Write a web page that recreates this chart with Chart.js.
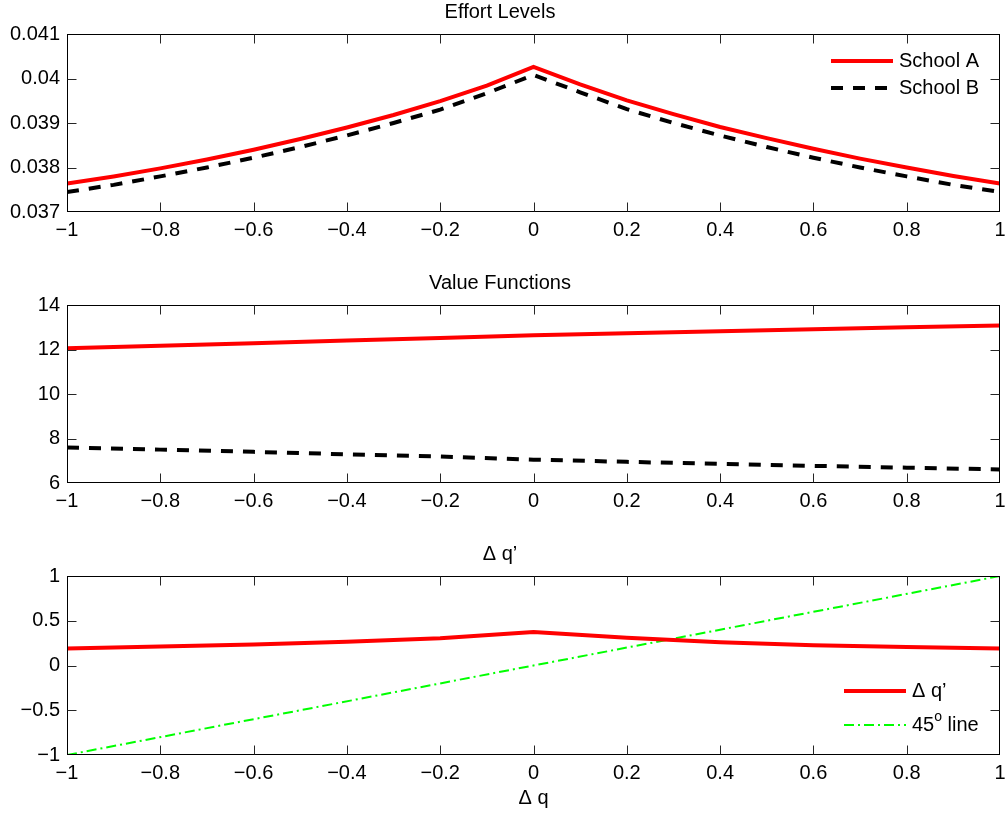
<!DOCTYPE html>
<html>
<head>
<meta charset="utf-8">
<script src="https://cdn.jsdelivr.net/npm/chart.js@4.4.1/dist/chart.umd.min.js"></script>
<style>
  html, body { margin: 0; padding: 0; background: #fff; }
  #wrap { position: relative; width: 1005px; height: 814px; }
  canvas { position: absolute; left: 0; }
</style>
</head>
<body>
<div id="wrap">
  <canvas id="c1" width="1005" height="250" style="top:0px"></canvas>
  <canvas id="c2" width="1005" height="250" style="top:271px"></canvas>
  <canvas id="c3" width="1005" height="272" style="top:542px"></canvas>
</div>
<script>
// effort levels, read at steps of 0.1
const dqFine = [-1, -0.9, -0.8, -0.7, -0.6, -0.5, -0.4, -0.3, -0.2, -0.1, 0,
                0.1, 0.2, 0.3, 0.4, 0.5, 0.6, 0.7, 0.8, 0.9, 1]
const effortA = [0.03764, 0.03780, 0.03798, 0.03818, 0.03840, 0.03864, 0.03890, 0.03918, 0.03949, 0.03984, 0.04026,
                 0.03987, 0.03951, 0.03920, 0.03891, 0.03866, 0.03842, 0.03820, 0.03800, 0.03781, 0.03764]
const effortB = [0.03745, 0.03761, 0.03780, 0.03800, 0.03822, 0.03846, 0.03872, 0.03900, 0.03930, 0.03967, 0.04008,
                 0.03969, 0.03931, 0.03900, 0.03872, 0.03846, 0.03822, 0.03800, 0.03780, 0.03761, 0.03745]

// value functions + policy, steps of 0.2
const dq = [-1, -0.8, -0.6, -0.4, -0.2, 0, 0.2, 0.4, 0.6, 0.8, 1]
const valueA = [12.06, 12.17, 12.28, 12.40, 12.52, 12.64, 12.73, 12.82, 12.91, 13.00, 13.08]
const valueB = [7.60, 7.50, 7.40, 7.29, 7.19, 7.05, 6.95, 6.86, 6.77, 6.69, 6.61]
const dqPrime = [0.190, 0.211, 0.234, 0.264, 0.305, 0.375, 0.309, 0.260, 0.226, 0.207, 0.190]
const lineX = [-1, 1]
const lineY = [-1, 1]

const FONT = "'Liberation Sans', Arial, Helvetica, sans-serif"
Chart.defaults.font.family = FONT
Chart.defaults.font.size = 20
Chart.defaults.color = '#000'

const pts = (xs, ys) => xs.map((x, i) => ({ x: x, y: ys[i] }))
const fmt = v => String(+(+v).toFixed(3)).replace('-', '\u2212')

// matlab style box with inward ticks + hand drawn legend
const boxPlugin = {
  id: 'box',
  afterDraw(chart, args, opts) {
    const ctx = chart.ctx
    const a = chart.chartArea
    const L = Math.round(a.left) + 0.5, R = Math.round(a.right) - 0.5
    const T = Math.round(a.top) + 0.5, B = Math.round(a.bottom) - 0.5
    ctx.save()
    ctx.strokeStyle = '#000'
    ctx.lineWidth = 1
    ctx.setLineDash([])
    ctx.strokeRect(L, T, R - L, B - T)
    ctx.strokeStyle = '#262626'
    const xs = chart.scales.x, ys = chart.scales.y
    ctx.beginPath()
    xs.ticks.forEach(t => {
      const p = Math.round(xs.getPixelForValue(t.value)) + 0.5
      if (p <= L + 1 || p >= R - 1) return
      ctx.moveTo(p, B); ctx.lineTo(p, B - 9)
      ctx.moveTo(p, T); ctx.lineTo(p, T + 9)
    })
    ys.ticks.forEach(t => {
      const p = Math.round(ys.getPixelForValue(t.value)) + 0.5
      if (p <= T + 1 || p >= B - 1) return
      ctx.moveTo(L, p); ctx.lineTo(L + 9, p)
      ctx.moveTo(R, p); ctx.lineTo(R - 9, p)
    })
    ctx.stroke()

    // legend
    const items = opts.items || []
    items.forEach((it, i) => {
      const ds = chart.data.datasets[i]
      const y = a.top + it.dy
      const x0 = a.right - it.dx
      ctx.beginPath()
      ctx.strokeStyle = ds.borderColor
      ctx.lineWidth = ds.borderWidth
      ctx.setLineDash(ds.borderDash || [])
      ctx.moveTo(x0, y); ctx.lineTo(x0 + 62, y)
      ctx.stroke()
      ctx.setLineDash([])
      ctx.fillStyle = '#000'
      ctx.textBaseline = 'middle'
      ctx.textAlign = 'left'
      let tx = x0 + 68
      it.parts.forEach(p => {
        ctx.font = (p.sup ? 14 : 20) + 'px ' + FONT
        ctx.fillText(p.t, tx, y - (p.sup ? 8 : 0))
        tx += ctx.measureText(p.t).width
      })
    })
    ctx.restore()
  }
}

function makeChart(id, title, datasets, yMin, yMax, yStep, legendItems, xTitle, xHeight) {
  return new Chart(document.getElementById(id), {
    type: 'line',
    data: { datasets },
    options: {
      responsive: false,
      animation: false,
      layout: { padding: { left: 0, right: 5, top: 0, bottom: 0 } },
      elements: { point: { radius: 0 }, line: { tension: 0 } },
      plugins: {
        legend: { display: false },
        tooltip: { enabled: false },
        title: {
          display: true, text: title, color: '#000',
          font: { size: 20, weight: 'normal' },
          padding: { top: 0, bottom: 10 }
        },
        box: { items: legendItems }
      },
      scales: {
        x: {
          type: 'linear', min: -1, max: 1,
          grid: { display: false, drawTicks: false },
          border: { display: false },
          ticks: { stepSize: 0.2, padding: 6, maxRotation: 0, callback: fmt },
          title: xTitle ? { display: true, text: xTitle, padding: { top: 2, bottom: 4 } } : { display: false },
          afterFit(s) { s.height = xHeight; s.paddingLeft = 0; s.paddingRight = 0 }
        },
        y: {
          min: yMin, max: yMax,
          grid: { display: false, drawTicks: false },
          border: { display: false },
          ticks: { stepSize: yStep, padding: 7, callback: fmt },
          afterFit(s) { s.width = 67 }
        }
      }
    },
    plugins: [boxPlugin]
  })
}

const red = { borderColor: '#ff0000', borderWidth: 4, fill: false }
const blackDash = { borderColor: '#000000', borderWidth: 4, borderDash: [12, 10], fill: false }

makeChart('c1', 'Effort Levels', [
  Object.assign({ label: 'School A', data: pts(dqFine, effortA) }, red),
  Object.assign({ label: 'School B', data: pts(dqFine, effortB) }, blackDash)
], 0.037, 0.041, 0.001, [
  { dx: 169, dy: 27, parts: [{ t: 'School A' }] },
  { dx: 169, dy: 54, parts: [{ t: 'School B' }] }
], null, 38)

makeChart('c2', 'Value Functions', [
  Object.assign({ label: 'School A', data: pts(dq, valueA) }, red),
  Object.assign({ label: 'School B', data: pts(dq, valueB) }, blackDash)
], 6, 14, 2, [], null, 38)

makeChart('c3', '\u0394 q\u2019', [
  Object.assign({ label: '\u0394 q\u2019', data: pts(dq, dqPrime) }, red),
  { label: '45o line', data: pts(lineX, lineY), borderColor: '#00ff00', borderWidth: 2, borderDash: [10, 4, 2, 4], fill: false }
], -1, 1, 0.5, [
  { dx: 156, dy: 115, parts: [{ t: '\u0394 q\u2019' }] },
  { dx: 156, dy: 149, parts: [{ t: '45' }, { t: 'o', sup: true }, { t: ' line' }] }
], '\u0394 q', 59)
</script>
</body>
</html>
